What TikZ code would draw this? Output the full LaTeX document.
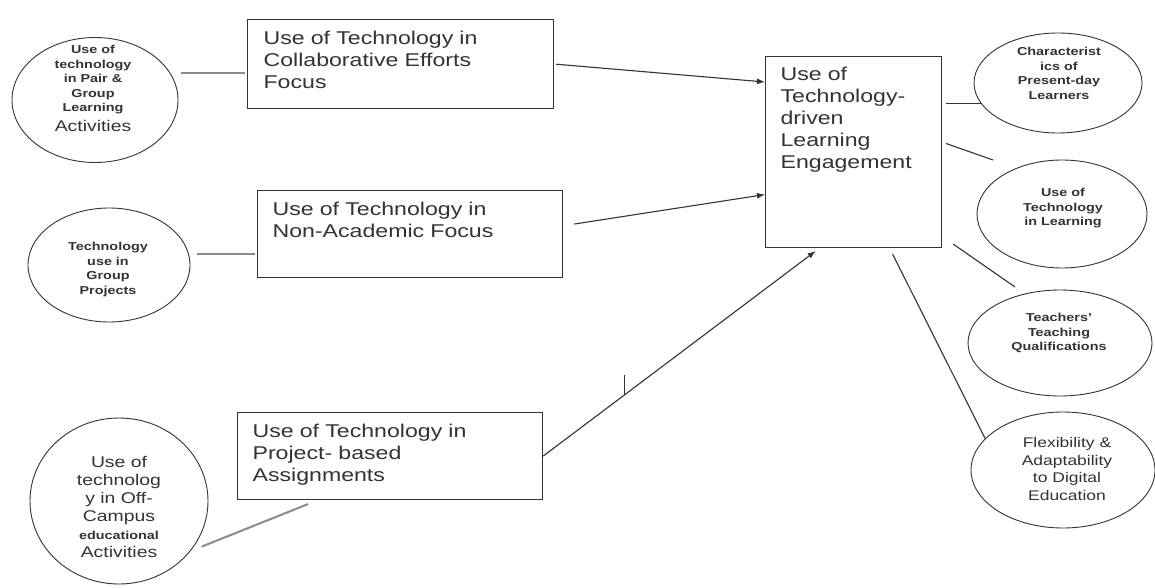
\documentclass[tikz,border=0pt]{standalone}
\usepackage{fontspec}
\setmainfont{Liberation Sans}[FakeStretch=1.25]
\usetikzlibrary{arrows.meta, shapes.geometric, positioning, calc}
\definecolor{linegray}{HTML}{8A8A8A}
\definecolor{inkgray}{HTML}{333333}
\newcommand{\boxfont}{\fontsize{18.5}{22}\selectfont}
\newcommand{\ovalfont}{\fontsize{11.5}{14.5}\selectfont\bfseries}
\newcommand{\ovalbig}{\fontsize{15.5}{18}\selectfont}
\newcommand{\ovalmid}{\fontsize{14}{17.7}\selectfont}
\begin{document}
\begin{tikzpicture}[x=1pt, y=-1pt, >={Latex[length=8pt,width=6pt]},
    box/.style={draw=inkgray, line width=1.2pt, anchor=north west, align=left,
                inner xsep=15pt, inner ysep=11pt, font=\boxfont, text=inkgray},
    oval/.style={draw=inkgray, ellipse, line width=0.9pt, inner sep=0pt},
    ovaltext/.style={align=center, inner sep=0pt, anchor=north, font=\ovalfont, text=inkgray},
    feed/.style={draw=linegray, line width=2pt},
    link/.style={draw=inkgray, line width=1.1pt},
    flow/.style={draw=inkgray, line width=1.1pt, ->}]
      \useasboundingbox[fill=white] (0,0) rectangle (1155,588);
      % Left ovals
      \node[oval, minimum width=166pt, minimum height=125pt] (pair) at (95,100) {};
      \node[ovaltext] (pairtext) at (93,45)
        {Use of\\technology\\in Pair \&\\Group\\Learning\\[5pt]{\ovalbig\mdseries Activities}};
      \node[oval, minimum width=162pt, minimum height=114pt] (grp) at (109,265) {};
      \node[ovaltext] (grptext) at (108,242) {Technology\\use in\\Group\\Projects};
      \node[oval, minimum width=178pt, minimum height=166pt] (off) at (119,501) {};
      \node[ovaltext, font=\ovalbig] (offtext) at (119,456)
        {Use of\\technolog\\y in Off-\\Campus\\{\ovalfont educational}\\Activities};
      % Boxes
      \node[box, text width=274pt, text depth=53.5pt, inner xsep=16pt] (colab) at (247,19)
        {Use of Technology in\\Collaborative Efforts\\Focus};
      \node[box, text width=275pt, text depth=51.5pt] (nonac) at (257,190)
        {Use of Technology in\\Non-Academic Focus};
      \node[box, text width=275pt, text depth=51.5pt] (proj) at (237,412)
        {Use of Technology in\\Project- based\\Assignments};
      \node[box, text width=146pt, text depth=155.5pt] (eng) at (765,56)
        {Use of\\Technology-\\driven\\Learning\\Engagement};
      % Right ovals
      \node[oval, minimum width=168pt, minimum height=100pt] (pres) at (1058,83) {};
      \node[ovaltext] (prestext) at (1059,47) {Characterist\\ics of\\Present-day\\Learners};
      \node[oval, minimum width=170pt, minimum height=108pt] (learn) at (1062,214) {};
      \node[ovaltext] (learntext) at (1063,188) {Use of\\Technology\\in Learning};
      \node[oval, minimum width=184pt, minimum height=106pt] (qual) at (1060,343) {};
      \node[ovaltext] (qualtext) at (1059,313) {Teachers'\\Teaching\\Qualifications};
      \node[oval, minimum width=184pt, minimum height=116pt] (flex) at (1063,470) {};
      \node[ovaltext, font=\ovalmid\mdseries] (flextext) at (1067,437)
        {Flexibility \&\\Adaptability\\to Digital\\Education};
      % Left links
      \draw[feed, shorten <=11pt, shorten >=2pt] (pair.20) -- (pair.20 -| colab.west);
      \draw[feed, shorten <=8.5pt, shorten >=2pt] (grp.8) -- (grp.8 -| nonac.west);
      \coordinate (projfoot) at ([xshift=71pt,yshift=-4pt]proj.south west);
      \draw[feed, shorten <=12pt] (off.-35) -- (projfoot);
      % Arrows
      \draw[flow, shorten <=2pt] (colab.east) -- ([yshift=-26pt]eng.north west);
      \draw[flow] ([xshift=11pt,yshift=10pt]nonac.east) -- ([yshift=-42.5pt]eng.west);
      \draw[flow] (proj.east) -- coordinate[pos=.3] (tick) ([xshift=-38pt,yshift=-3pt]eng.south);
      \draw[link] (tick) -- ++(0,-20);
      % Right links
      \draw[link, shorten <=4pt] (pres.195 -| eng.east) -- (pres.195);
      \coordinate (learnend) at ([xshift=-69pt,yshift=54pt]learn.center);
      \draw[link] ([xshift=4pt,yshift=8.5pt]eng.east) -- (learnend);
      \coordinate (qualend) at ([xshift=-45pt,yshift=56pt]qual.center);
      \draw[link] ([xshift=11pt,yshift=4pt]eng.south east) -- (qualend);
      \draw[link] ([xshift=39pt,yshift=-6pt]eng.south) -- (flex.158);
\end{tikzpicture}
\end{document}
